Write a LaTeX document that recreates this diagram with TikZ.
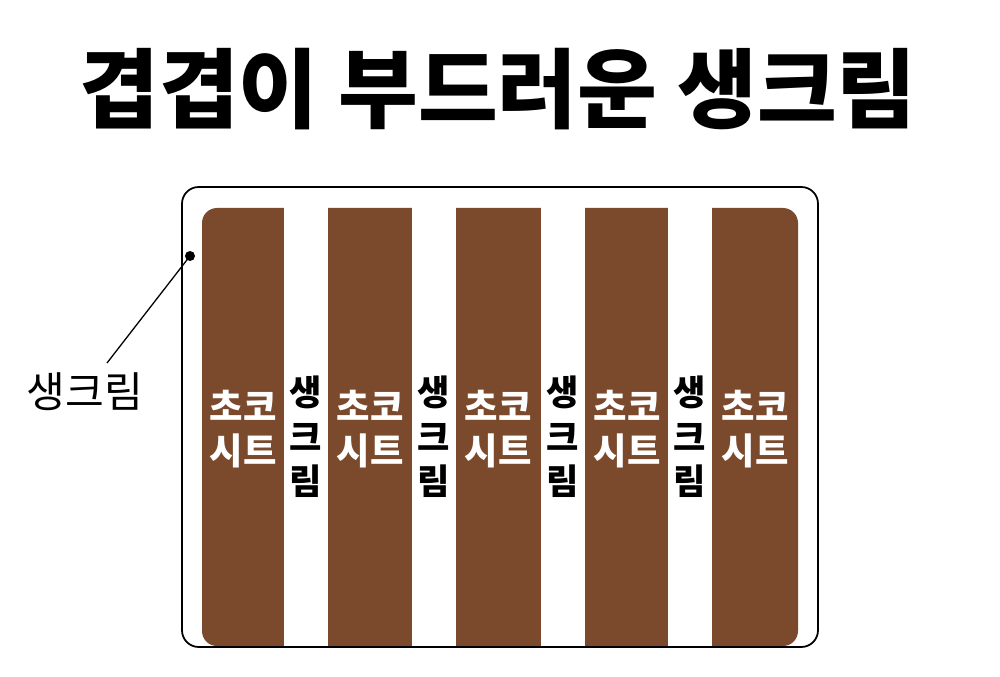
\documentclass[tikz,border=0pt]{standalone}
\usepackage{fontspec}
\setmainfont{Noto Sans CJK KR}
\usetikzlibrary{positioning}
\definecolor{ChocoClr}{RGB}{123,74,45}

\begin{document}
\begin{tikzpicture}[x=0.03cm,y=-0.03cm]
\tikzset{sheettxt/.style={text=white,font=\bfseries\fontsize{31}{37}\selectfont,align=center,inner sep=0pt},
  creamtxt/.style={text=black,font=\bfseries\fontsize{30}{38}\selectfont,align=center,inner sep=0pt}}
\useasboundingbox (0,0) rectangle (1000,677);

\node[font=\bfseries\fontsize{74}{80}\selectfont] (title) at (498,89) {겹겹이 부드러운 생크림};

% chocolate body, cream layers cut in
\fill[ChocoClr,rounded corners=0.45cm] (202,208) rectangle (798,646);
\foreach \x in {284,412,541,668}
  \fill[white] (\x,200) rectangle ++(44,448);

\draw[line width=1.5pt,rounded corners=0.5cm] (182,187) rectangle (818,647);

% labels of the layers
\foreach \x/\n in {243/1,370/2,498/3,627/4,755/5}
  \node[sheettxt] (sheet\n) at (\x,429) {초코\\시트};
\foreach \x/\n in {306/1,434/2,563/3,690/4}
  \node[creamtxt] (cream\n) at (\x,437) {생\\크\\림};

\node[font=\fontsize{36}{40}\selectfont] (lbl) at (85,392) {생크림};
\coordinate (dot) at (190,256);
\coordinate (tip) at (107,363);
\fill (dot) circle (0.15cm);
\draw[line width=1.1pt] (dot) -- (tip);

\end{tikzpicture}
\end{document}
